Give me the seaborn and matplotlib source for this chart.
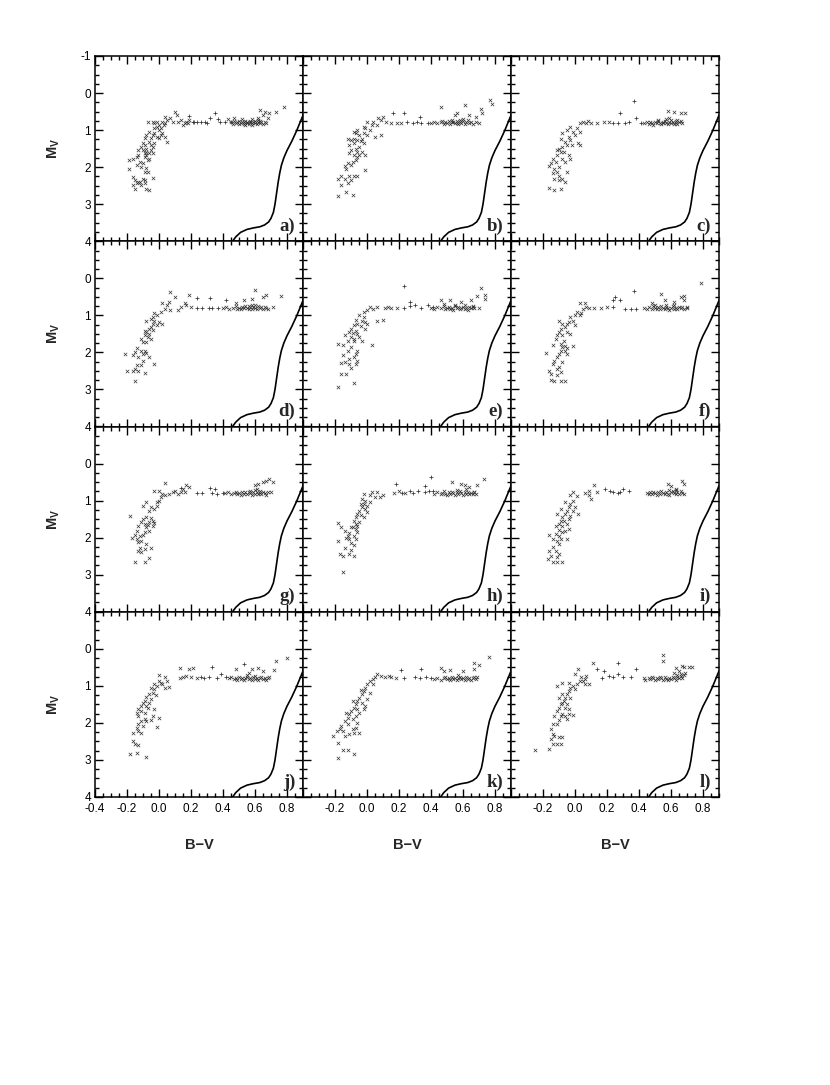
import matplotlib
matplotlib.use("Agg")
import matplotlib.pyplot as plt
from matplotlib.ticker import MultipleLocator
import seaborn as sns
import pandas as pd

# Common reference curve drawn in every panel (B-V, M_V)
curve_bv = [0.46, 0.48, 0.51, 0.55, 0.59, 0.63, 0.66, 0.685, 0.70, 0.715, 0.725, 0.735,
            0.745, 0.755, 0.765, 0.78, 0.80, 0.83, 0.86, 0.90]
curve_mv = [4.00, 3.88, 3.76, 3.68, 3.64, 3.61, 3.56, 3.48, 3.38, 3.22, 3.00, 2.70,
            2.40, 2.15, 1.95, 1.75, 1.55, 1.30, 1.02, 0.60]

panel_names = ['a', 'b', 'c', 'd', 'e', 'f', 'g', 'h', 'i', 'j', 'k', 'l']

# stars drawn with 'x', (B-V, M_V)
stars_a = [(-0.19,1.81),(-0.19,2.04),(-0.16,1.77),(-0.14,1.72),(-0.13,1.68),(-0.11,1.99),(-0.14,1.95),(-0.10,1.90),
           (-0.09,1.72),(-0.08,1.68),(-0.06,1.77),(-0.08,2.03),(-0.09,2.13),(-0.07,2.13),(-0.16,2.26),(-0.15,2.35),
           (-0.14,2.44),(-0.13,2.40),(-0.11,2.49),(-0.16,2.49),(-0.15,2.58),(-0.10,2.31),(-0.09,2.35),(-0.08,2.58),
           (-0.06,2.62),(-0.04,2.29),(-0.09,2.44),(-0.12,2.40),(-0.12,1.85),(-0.07,1.80),
           (-0.13,1.54),(-0.11,1.45),(-0.10,1.36),(-0.09,1.40),(-0.08,1.50),(-0.06,1.31),(-0.05,1.22),(-0.04,1.14),
           (-0.03,1.09),(-0.01,1.18),(-0.09,1.22),(-0.08,1.14),(-0.06,1.05),(-0.04,1.45),(-0.03,1.36),(-0.05,1.54),
           (-0.04,1.63),(-0.06,1.63),(-0.08,1.59),(-0.10,1.54),(-0.09,1.63),(-0.05,1.40),(0.00,1.22),(0.01,1.14),
           (0.02,1.09),(0.04,1.18),(0.05,1.31),(-0.03,0.95),(-0.01,0.91),(0.00,1.00),(0.01,0.95),(0.03,0.86),
           (0.04,0.82),(0.00,0.86),(-0.03,0.82),(0.04,0.64),(0.05,0.73),(0.07,0.68),(0.09,0.77),(0.10,0.50),
           (0.11,0.59),(0.12,0.77),(0.15,0.86),(0.14,0.73),(0.16,0.82),(0.17,0.77),(0.19,0.73),(0.18,0.82),
           (-0.07,0.77),(-0.04,0.77),(-0.01,0.77),(0.02,0.77),
           (0.45,0.79),(0.46,0.83),(0.47,0.76),(0.48,0.81),(0.49,0.78),(0.50,0.84),(0.50,0.75),(0.51,0.80),
           (0.52,0.77),(0.53,0.83),(0.53,0.79),(0.54,0.75),(0.55,0.81),(0.55,0.78),(0.56,0.84),(0.57,0.79),
           (0.57,0.76),(0.58,0.82),(0.59,0.78),(0.60,0.80),(0.60,0.75),(0.61,0.83),(0.62,0.78),(0.63,0.81),
           (0.63,0.75),(0.64,0.79),(0.65,0.84),(0.66,0.77),(0.67,0.81),(0.58,0.86),(0.54,0.86),(0.62,0.72),
           (0.63,0.46),(0.66,0.52),(0.69,0.55),(0.73,0.50),(0.78,0.37),(0.65,0.60),(0.68,0.68),(0.62,0.68),
           (0.58,0.70),(0.52,0.70),(0.43,0.70),(0.47,0.68)]
stars_b = [(-0.18,2.77),(-0.13,2.68),(-0.09,2.74),(-0.18,2.32),(-0.16,2.23),(-0.14,2.32),(-0.11,2.23),(-0.08,2.23),
           (-0.06,2.23),(-0.16,2.49),(-0.12,2.44),(-0.10,2.35),(-0.01,2.08),(-0.14,1.96),(-0.12,1.90),(-0.10,1.95),
           (-0.07,1.81),(-0.06,1.72),(-0.08,1.68),(-0.11,1.63),(-0.10,1.54),(-0.07,1.50),(-0.05,1.45),(-0.06,1.59),
           (-0.03,1.59),(-0.01,1.68),(-0.08,1.36),(-0.11,1.40),(-0.12,1.23),(-0.08,1.23),(-0.06,1.27),(-0.03,1.23),
           (-0.05,1.14),(-0.02,1.09),(0.00,1.14),(0.02,1.00),(-0.01,0.95),(0.03,0.86),(0.00,0.77),(0.04,0.77),
           (0.06,0.86),(0.07,0.68),(0.09,0.73),(0.05,1.18),(0.09,1.14),(-0.06,1.00),(-0.02,0.91),(-0.07,1.09),
           (-0.10,1.27),(-0.05,1.68),(-0.02,1.36),(-0.09,1.85),(-0.13,2.05),(-0.04,1.30),(-0.08,1.05),
           (0.10,0.64),(0.15,0.80),(0.19,0.80),(0.21,0.80),(0.12,0.78),
           (0.40,0.80),(0.42,0.77),(0.44,0.82),(0.46,0.79),(0.47,0.75),(0.48,0.83),(0.49,0.78),(0.50,0.81),
           (0.51,0.76),(0.52,0.84),(0.53,0.79),(0.54,0.77),(0.55,0.82),(0.56,0.75),(0.56,0.80),(0.57,0.84),
           (0.58,0.78),(0.59,0.81),(0.60,0.76),(0.61,0.83),(0.62,0.79),(0.63,0.74),(0.64,0.81),(0.65,0.77),
           (0.66,0.83),(0.58,0.72),(0.60,0.70),(0.53,0.72),(0.68,0.79),(0.70,0.81),
           (0.46,0.37),(0.61,0.31),(0.71,0.43),(0.72,0.55),(0.77,0.19),(0.78,0.30),(0.64,0.59),(0.68,0.64),
           (0.55,0.59),(0.56,0.55)]
stars_c = [(-0.16,2.56),(-0.13,2.62),(-0.09,2.60),(-0.16,1.96),(-0.15,1.90),(-0.13,2.04),(-0.11,2.13),(-0.14,2.17),
           (-0.10,2.23),(-0.08,2.31),(-0.10,2.35),(-0.05,2.13),(-0.06,2.40),(-0.13,2.31),
           (-0.14,1.77),(-0.11,1.68),(-0.09,1.59),(-0.10,1.50),(-0.08,1.45),(-0.05,1.41),(-0.06,1.32),(-0.09,1.23),
           (-0.04,1.18),(-0.01,1.05),(0.01,0.95),(-0.03,0.91),(0.03,0.82),(0.05,0.77),(0.07,0.82),(-0.03,1.77),
           (-0.04,1.68),(0.02,1.36),(0.03,1.41),(-0.08,1.77),(-0.06,1.86),(-0.11,1.54),(0.00,1.14),(-0.05,1.00),
           (-0.03,1.27),(-0.08,1.09),(-0.10,2.00),(0.03,1.05),(-0.07,1.60),(-0.12,1.85),(-0.02,1.40),
           (0.10,0.80),(0.14,0.80),(0.18,0.77),(0.21,0.77),(0.08,0.76),
           (0.43,0.82),(0.45,0.79),(0.46,0.84),(0.47,0.77),(0.48,0.81),(0.49,0.85),(0.50,0.78),(0.51,0.82),
           (0.52,0.76),(0.53,0.80),(0.54,0.84),(0.55,0.78),(0.55,0.82),(0.56,0.75),(0.57,0.80),(0.58,0.84),
           (0.59,0.77),(0.60,0.81),(0.61,0.78),(0.62,0.84),(0.63,0.80),(0.63,0.76),(0.64,0.83),(0.65,0.79),
           (0.66,0.76),(0.67,0.82),(0.60,0.72),(0.52,0.73),(0.57,0.70),
           (0.58,0.49),(0.62,0.52),(0.66,0.53),(0.69,0.55),(0.59,0.68),(0.64,0.73)]
stars_d = [(-0.21,2.05),(-0.20,2.49),(-0.16,2.49),(-0.15,2.44),(-0.14,2.35),(-0.13,2.49),(-0.11,2.35),(-0.15,2.77),
           (-0.09,2.56),(-0.10,2.23),(-0.16,2.08),(-0.15,1.99),(-0.14,1.87),(-0.11,1.95),(-0.10,2.04),(-0.09,1.96),
           (-0.08,2.02),(-0.06,2.13),(-0.03,2.32),(-0.13,2.13),
           (-0.11,1.63),(-0.09,1.54),(-0.08,1.45),(-0.06,1.36),(-0.08,1.72),(-0.05,1.63),(-0.06,1.50),(-0.09,1.41),
           (-0.05,1.32),(-0.04,1.23),(-0.03,1.14),(-0.01,1.27),(0.00,1.18),(0.02,1.23),(-0.08,1.14),(-0.05,1.09),
           (-0.03,0.95),(0.01,0.91),(0.04,0.82),(0.05,0.73),(0.02,0.68),(0.06,0.64),(0.07,0.37),(0.10,0.50),
           (0.14,0.77),(0.12,0.86),(0.16,0.68),(0.19,0.44),(0.17,0.73),(0.20,0.77),(-0.01,1.00),(-0.04,1.05),
           (0.07,0.86),(-0.10,1.72),(-0.07,1.58),(-0.04,1.40),
           (0.40,0.81),(0.42,0.78),(0.44,0.83),(0.46,0.79),(0.48,0.76),(0.49,0.82),(0.50,0.79),(0.51,0.84),
           (0.52,0.77),(0.53,0.81),(0.54,0.75),(0.55,0.80),(0.56,0.84),(0.57,0.78),(0.58,0.72),(0.58,0.82),
           (0.59,0.77),(0.60,0.80),(0.61,0.84),(0.62,0.76),(0.63,0.81),(0.64,0.78),(0.65,0.83),(0.66,0.77),
           (0.67,0.80),(0.68,0.82),(0.60,0.71),(0.56,0.74),
           (0.60,0.31),(0.67,0.46),(0.65,0.50),(0.76,0.48),(0.71,0.77),(0.58,0.55),(0.53,0.59),(0.48,0.67)]
stars_e = [(-0.18,2.94),(-0.13,2.58),(-0.16,2.59),(-0.08,2.82),(-0.18,1.78),(-0.15,1.81),(-0.12,1.95),(-0.15,2.08),
           (-0.11,2.17),(-0.08,2.13),(-0.07,2.04),(-0.06,1.95),(-0.10,1.86),(-0.14,2.26),(-0.16,2.29),(-0.11,2.31),
           (-0.10,2.41),(-0.07,2.32),(-0.06,2.23),(0.03,1.81),(-0.08,1.68),
           (-0.14,1.54),(-0.11,1.45),(-0.10,1.36),(-0.08,1.27),(-0.07,1.41),(-0.06,1.50),(-0.05,1.59),(-0.10,1.59),
           (-0.06,1.23),(-0.03,1.14),(-0.02,1.05),(-0.01,1.18),(0.00,1.23),(-0.05,1.00),(-0.02,0.91),(0.00,0.86),
           (0.02,0.77),(0.04,0.82),(0.06,0.77),(0.06,1.14),(0.10,1.12),(-0.01,1.36),(-0.08,1.63),(-0.03,1.68),
           (-0.12,1.70),(-0.09,1.48),(-0.04,1.30),(-0.07,1.12),
           (0.11,0.80),(0.15,0.80),(0.19,0.80),(0.13,0.77),
           (0.40,0.79),(0.42,0.83),(0.44,0.78),(0.46,0.81),(0.48,0.76),(0.49,0.84),(0.50,0.80),(0.51,0.77),
           (0.52,0.83),(0.53,0.79),(0.54,0.85),(0.55,0.76),(0.56,0.81),(0.57,0.78),(0.58,0.84),(0.59,0.80),
           (0.60,0.77),(0.61,0.82),(0.62,0.79),(0.63,0.85),(0.64,0.78),(0.65,0.81),(0.66,0.76),(0.67,0.80),
           (0.55,0.71),(0.61,0.72),(0.48,0.70),(0.70,0.80),
           (0.46,0.59),(0.52,0.58),(0.65,0.59),(0.69,0.49),(0.71,0.25),(0.74,0.46),(0.74,0.55),(0.59,0.64),
           (0.66,0.77)]
stars_f = [(-0.18,2.01),(-0.16,2.49),(-0.15,2.58),(-0.11,2.62),(-0.13,2.76),(-0.09,2.77),(-0.06,2.77),(-0.15,2.74),
           (-0.14,2.31),(-0.13,2.22),(-0.11,2.13),(-0.10,2.04),(-0.09,1.96),(-0.08,1.86),(-0.06,1.95),(-0.06,1.84),
           (-0.05,2.04),(-0.08,2.26),(-0.10,2.40),(-0.09,2.53),(-0.11,2.44),(-0.01,1.84),(-0.14,1.81),(-0.09,1.77),
           (-0.05,1.87),
           (-0.11,1.54),(-0.10,1.45),(-0.09,1.36),(-0.06,1.32),(-0.05,1.23),(-0.04,1.18),(-0.01,1.14),(-0.03,1.05),
           (0.00,1.00),(0.01,0.91),(-0.05,1.45),(-0.08,1.54),(-0.03,1.50),(0.00,1.27),(0.03,0.99),(0.04,0.95),
           (0.05,0.82),(0.06,0.68),(0.03,0.68),(0.07,0.77),(-0.10,1.14),(-0.08,1.23),(-0.12,1.65),(-0.07,1.70),
           (0.12,0.80),(0.16,0.80),(0.20,0.77),(0.09,0.80),
           (0.43,0.80),(0.45,0.84),(0.46,0.78),(0.48,0.82),(0.49,0.76),(0.50,0.80),(0.51,0.84),(0.52,0.78),
           (0.53,0.82),(0.54,0.75),(0.55,0.80),(0.56,0.84),(0.57,0.77),(0.58,0.81),(0.59,0.85),(0.60,0.79),
           (0.61,0.76),(0.62,0.82),(0.63,0.79),(0.64,0.84),(0.65,0.77),(0.66,0.81),(0.67,0.78),(0.68,0.83),
           (0.70,0.80),(0.62,0.72),(0.57,0.71),(0.50,0.73),
           (0.54,0.43),(0.56,0.59),(0.62,0.64),(0.66,0.50),(0.68,0.49),(0.68,0.59),(0.70,0.77),(0.79,0.13),
           (0.48,0.68)]
stars_g = [(-0.15,2.65),(-0.09,2.67),(-0.06,2.56),(-0.18,1.41),(-0.17,2.02),(-0.15,1.93),(-0.14,2.04),(-0.13,2.13),
           (-0.11,2.08),(-0.10,1.93),(-0.12,2.29),(-0.11,2.40),(-0.09,2.31),(-0.05,2.29),(-0.13,2.35),(-0.08,2.17),
           (-0.14,1.81),(-0.13,1.68),(-0.11,1.59),(-0.10,1.50),(-0.09,1.63),(-0.08,1.72),(-0.06,1.59),(-0.05,1.48),
           (-0.04,1.54),(-0.08,1.45),(-0.06,1.81),(-0.09,1.86),(-0.04,1.68),(-0.10,1.14),(-0.08,1.05),(-0.05,1.18),
           (-0.03,1.23),(-0.01,1.14),(0.00,1.00),(0.01,0.91),(-0.01,1.05),(0.02,0.82),(0.04,0.86),(0.04,0.52),
           (-0.03,0.75),(0.00,0.75),(0.06,0.82),(0.09,0.77),(0.10,0.73),(0.14,0.77),(0.15,0.68),(0.17,0.59),
           (0.19,0.64),(0.16,0.77),(0.12,0.82),(-0.06,1.27),(-0.07,1.66),(-0.12,1.95),(-0.03,1.60),
           (0.41,0.80),(0.43,0.78),(0.45,0.81),(0.47,0.79),(0.48,0.76),(0.49,0.82),(0.50,0.79),(0.51,0.84),
           (0.52,0.77),(0.53,0.81),(0.54,0.78),(0.55,0.83),(0.56,0.76),(0.57,0.80),(0.58,0.84),(0.59,0.78),
           (0.60,0.81),(0.61,0.76),(0.62,0.83),(0.63,0.79),(0.64,0.82),(0.65,0.77),(0.66,0.80),(0.67,0.84),
           (0.68,0.78),(0.57,0.73),(0.60,0.71),
           (0.60,0.59),(0.62,0.55),(0.65,0.50),(0.67,0.46),(0.69,0.43),(0.71,0.50),(0.70,0.77),(0.61,0.68),
           (0.63,0.73)]
stars_h = [(-0.15,2.92),(-0.17,2.44),(-0.15,2.49),(-0.11,2.44),(-0.08,2.49),(-0.10,2.32),(-0.14,2.29),(-0.18,2.08),
           (-0.18,1.60),(-0.16,1.72),(-0.14,1.81),(-0.12,1.95),(-0.11,2.04),(-0.10,2.14),(-0.08,2.20),(-0.11,1.87),
           (-0.08,1.95),(-0.07,2.04),(-0.06,1.86),(-0.07,1.77),(-0.10,1.72),
           (-0.08,1.54),(-0.07,1.45),(-0.06,1.36),(-0.05,1.27),(-0.03,1.18),(-0.02,1.09),(-0.01,1.00),(-0.03,0.95),
           (-0.01,1.23),(0.00,1.32),(-0.05,1.59),(-0.06,1.68),(-0.02,1.45),(0.00,1.14),(0.02,1.04),(-0.02,0.82),
           (0.02,0.85),(0.03,0.77),(0.06,0.77),(0.05,0.91),(0.08,0.91),(0.10,0.86),(-0.07,1.63),(-0.04,1.40),
           (-0.09,1.70),(-0.13,2.00),(-0.04,1.10),
           (0.17,0.80),(0.20,0.73),(0.24,0.80),
           (0.42,0.82),(0.44,0.78),(0.46,0.83),(0.47,0.79),(0.48,0.75),(0.49,0.81),(0.50,0.84),(0.51,0.78),
           (0.52,0.82),(0.53,0.76),(0.54,0.80),(0.55,0.84),(0.56,0.78),(0.57,0.82),(0.58,0.75),(0.59,0.80),
           (0.60,0.84),(0.61,0.78),(0.62,0.81),(0.63,0.76),(0.64,0.83),(0.65,0.79),(0.66,0.82),(0.67,0.77),
           (0.68,0.81),(0.56,0.72),(0.62,0.70),
           (0.53,0.49),(0.59,0.55),(0.61,0.59),(0.64,0.64),(0.67,0.77),(0.69,0.59),(0.73,0.41)]
stars_i = [(-0.17,2.58),(-0.15,2.49),(-0.14,2.67),(-0.11,2.67),(-0.08,2.67),(-0.16,2.35),(-0.14,2.26),(-0.12,2.35),
           (-0.10,2.17),(-0.11,2.08),(-0.14,2.04),(-0.16,1.93),(-0.12,1.90),(-0.10,1.95),(-0.08,1.86),(-0.09,2.04),
           (-0.05,2.04),(-0.10,2.44),(-0.11,2.53),
           (-0.12,1.68),(-0.10,1.63),(-0.09,1.54),(-0.08,1.45),(-0.06,1.36),(-0.05,1.27),(-0.04,1.18),(-0.03,1.09),
           (-0.01,1.00),(-0.08,1.68),(-0.05,1.63),(-0.04,1.77),(-0.06,1.81),(-0.03,1.41),(-0.01,1.27),(0.00,1.18),
           (0.02,1.36),(-0.06,1.05),(-0.09,1.23),(-0.11,1.36),(-0.03,0.86),(-0.01,0.77),(0.01,0.88),(0.06,0.80),
           (0.09,0.86),(0.10,0.95),(0.12,0.59),(0.09,0.73),(0.14,0.77),(-0.07,1.55),(-0.10,1.80),(-0.04,1.50),
           (0.45,0.80),(0.46,0.83),(0.47,0.78),(0.48,0.82),(0.49,0.76),(0.50,0.80),(0.51,0.84),(0.52,0.78),
           (0.53,0.81),(0.54,0.75),(0.55,0.79),(0.56,0.83),(0.57,0.77),(0.58,0.81),(0.59,0.84),(0.60,0.78),
           (0.61,0.74),(0.62,0.80),(0.63,0.83),(0.64,0.77),(0.65,0.81),(0.66,0.75),(0.67,0.79),(0.68,0.82),
           (0.63,0.71),(0.59,0.72),
           (0.58,0.55),(0.60,0.61),(0.67,0.46),(0.68,0.55),(0.63,0.68)]
stars_j = [(-0.18,2.85),(-0.14,2.80),(-0.16,2.50),(-0.15,2.58),(-0.13,2.59),(-0.08,2.92),(-0.16,2.26),(-0.14,2.13),
           (-0.13,2.22),(-0.11,2.26),(-0.13,2.04),(-0.11,1.96),(-0.09,1.90),(-0.10,2.08),(-0.08,1.95),(-0.05,1.93),
           (-0.01,2.11),(0.00,1.86),(-0.04,1.81),(-0.13,1.81),
           (-0.14,1.72),(-0.13,1.63),(-0.11,1.54),(-0.10,1.45),(-0.09,1.41),(-0.08,1.54),(-0.06,1.45),(-0.05,1.36),
           (-0.08,1.30),(-0.06,1.23),(-0.04,1.18),(-0.03,1.09),(-0.05,1.05),(-0.03,0.95),(-0.01,1.00),(0.00,0.86),
           (0.01,0.91),(0.02,0.95),(0.04,1.05),(0.05,0.86),(0.06,1.04),(0.00,0.70),(0.04,0.75),(-0.09,1.72),
           (-0.11,1.68),(-0.03,1.63),(-0.07,1.60),(-0.02,1.25),
           (0.13,0.52),(0.13,0.80),(0.15,0.77),(0.17,0.73),(0.19,0.55),(0.21,0.52),(0.20,0.77),(0.24,0.80),
           (0.44,0.80),(0.45,0.77),(0.47,0.82),(0.48,0.79),(0.49,0.84),(0.50,0.77),(0.51,0.81),(0.52,0.78),
           (0.53,0.84),(0.54,0.80),(0.55,0.76),(0.56,0.82),(0.57,0.79),(0.58,0.84),(0.59,0.77),(0.60,0.81),
           (0.61,0.78),(0.62,0.84),(0.63,0.80),(0.64,0.76),(0.65,0.82),(0.66,0.79),(0.67,0.83),(0.55,0.72),
           (0.60,0.73),(0.68,0.80),
           (0.48,0.55),(0.56,0.64),(0.58,0.55),(0.62,0.52),(0.65,0.59),(0.69,0.77),(0.72,0.58),(0.73,0.34),
           (0.80,0.25)]
stars_k = [(-0.18,2.94),(-0.15,2.72),(-0.12,2.74),(-0.08,2.85),(-0.21,2.35),(-0.18,2.55),(-0.19,2.23),(-0.17,2.17),
           (-0.15,2.22),(-0.14,2.35),(-0.11,2.29),(-0.08,2.26),(-0.05,2.26),(-0.07,2.13),(-0.09,2.17),(-0.06,1.99),
           (-0.16,2.08),
           (-0.14,1.95),(-0.12,1.86),(-0.11,1.77),(-0.10,1.68),(-0.08,1.59),(-0.07,1.50),(-0.06,1.41),(-0.05,1.32),
           (-0.03,1.23),(-0.02,1.14),(-0.01,1.05),(0.00,0.95),(0.02,0.86),(-0.07,1.81),(-0.05,1.72),(-0.02,1.63),
           (-0.01,1.54),(-0.03,1.45),(-0.06,1.63),(-0.09,1.90),(-0.12,2.04),(0.02,1.18),(0.00,1.36),(0.04,0.82),
           (0.06,0.68),(0.09,0.73),(0.05,0.77),(0.11,0.77),(0.14,0.73),(0.15,0.77),(0.04,0.95),(-0.09,1.40),
           (-0.04,1.10),(-0.13,1.72),
           (0.18,0.80),
           (0.42,0.81),(0.44,0.78),(0.46,0.83),(0.48,0.80),(0.49,0.76),(0.50,0.82),(0.51,0.79),(0.52,0.84),
           (0.53,0.77),(0.54,0.81),(0.55,0.78),(0.56,0.83),(0.57,0.79),(0.58,0.76),(0.59,0.82),(0.60,0.79),
           (0.61,0.84),(0.62,0.77),(0.63,0.81),(0.64,0.78),(0.65,0.83),(0.66,0.80),(0.67,0.76),(0.68,0.81),
           (0.57,0.72),
           (0.46,0.52),(0.48,0.61),(0.52,0.58),(0.60,0.59),(0.67,0.55),(0.69,0.77),(0.67,0.37),(0.70,0.43),
           (0.76,0.23)]
stars_l = [(-0.25,2.74),(-0.16,2.71),(-0.14,2.56),(-0.11,2.56),(-0.09,2.56),(-0.15,2.44),(-0.14,2.29),(-0.13,2.35),
           (-0.10,2.38),(-0.08,2.38),(-0.15,2.17),(-0.14,2.04),(-0.11,2.04),(-0.10,1.93),(-0.13,1.81),(-0.09,1.81),
           (-0.06,1.81),(-0.05,1.90),(-0.04,1.75),(-0.01,1.78),
           (-0.11,1.68),(-0.10,1.59),(-0.09,1.50),(-0.08,1.45),(-0.06,1.59),(-0.05,1.50),(-0.04,1.63),(-0.10,1.32),
           (-0.08,1.23),(-0.06,1.32),(-0.05,1.23),(-0.04,1.14),(-0.03,1.05),(-0.01,1.00),(0.00,1.09),(0.01,0.95),
           (0.03,0.86),(0.04,0.77),(0.00,0.68),(0.02,0.55),(0.05,0.86),(0.06,0.82),(0.07,0.73),(0.09,0.95),
           (0.11,0.37),(0.06,0.95),(-0.03,1.32),(-0.08,1.77),(-0.11,1.00),(-0.08,0.91),(-0.04,0.91),(-0.07,1.40),
           (0.43,0.80),(0.44,0.83),(0.46,0.78),(0.47,0.82),(0.48,0.76),(0.49,0.80),(0.50,0.84),(0.51,0.78),
           (0.52,0.81),(0.53,0.76),(0.54,0.80),(0.55,0.83),(0.56,0.77),(0.57,0.81),(0.58,0.84),(0.59,0.78),
           (0.60,0.81),(0.61,0.75),(0.62,0.79),(0.63,0.83),(0.64,0.77),(0.65,0.80),(0.66,0.74),(0.67,0.78),
           (0.68,0.72),(0.66,0.68),(0.69,0.66),(0.64,0.70),
           (0.55,0.16),(0.55,0.34),(0.63,0.52),(0.67,0.46),(0.68,0.50),(0.71,0.50),(0.73,0.49),(0.65,0.59),
           (0.62,0.64)]

# stars drawn with '+', (B-V, M_V)
var_a = [(0.19,0.61),(0.21,0.79),(0.24,0.79),(0.26,0.79),(0.29,0.79),(0.32,0.67),(0.35,0.55),(0.37,0.70),
         (0.38,0.77),(0.41,0.79),(0.45,0.77),(0.22,0.78),(0.30,0.80)]
var_b = [(0.16,0.55),(0.23,0.53),(0.33,0.64),(0.29,0.80),(0.34,0.80),(0.38,0.80),(0.25,0.79),(0.31,0.78)]
var_c = [(0.24,0.80),(0.27,0.80),(0.31,0.80),(0.28,0.53),(0.37,0.22),(0.38,0.68),(0.41,0.80),(0.34,0.79)]
var_d = [(0.24,0.53),(0.32,0.52),(0.24,0.80),(0.27,0.80),(0.31,0.80),(0.33,0.80),(0.37,0.80),(0.42,0.59)]
var_e = [(0.23,0.22),(0.23,0.80),(0.27,0.64),(0.27,0.75),(0.30,0.73),(0.38,0.73),(0.41,0.77),(0.34,0.80)]
var_f = [(0.24,0.59),(0.25,0.50),(0.28,0.58),(0.37,0.34),(0.24,0.77),(0.31,0.82),(0.35,0.82),(0.38,0.82)]
var_g = [(0.14,0.67),(0.24,0.80),(0.27,0.80),(0.32,0.67),(0.35,0.68),(0.33,0.80),(0.36,0.82),(0.40,0.80)]
var_h = [(0.18,0.55),(0.27,0.75),(0.29,0.80),(0.32,0.73),(0.36,0.61),(0.40,0.37),(0.36,0.77),(0.39,0.73),
         (0.41,0.73),(0.22,0.80)]
var_i = [(0.19,0.68),(0.24,0.77),(0.27,0.80),(0.30,0.70),(0.34,0.73),(0.22,0.73),(0.28,0.78)]
var_j = [(0.26,0.77),(0.31,0.77),(0.33,0.48),(0.36,0.80),(0.39,0.68),(0.42,0.77),(0.53,0.41),(0.28,0.80)]
var_k = [(0.21,0.58),(0.30,0.75),(0.34,0.55),(0.33,0.80),(0.37,0.77),(0.40,0.80),(0.23,0.79)]
var_l = [(0.14,0.55),(0.17,0.80),(0.18,0.61),(0.21,0.73),(0.24,0.77),(0.27,0.39),(0.27,0.68),(0.30,0.77),
         (0.35,0.77),(0.38,0.55)]

stars = [stars_a, stars_b, stars_c, stars_d, stars_e, stars_f,
         stars_g, stars_h, stars_i, stars_j, stars_k, stars_l]
variables = [var_a, var_b, var_c, var_d, var_e, var_f,
             var_g, var_h, var_i, var_j, var_k, var_l]

sns.set_style("ticks")
plt.rcParams['font.family'] = ['Liberation Sans', 'DejaVu Sans']
plt.rcParams['axes.unicode_minus'] = False
plt.rcParams['mathtext.fontset'] = 'custom'
plt.rcParams['mathtext.bf'] = 'Liberation Sans:bold'
plt.rcParams['mathtext.rm'] = 'Liberation Sans'

fig, axes = plt.subplots(4, 3, figsize=(8.3, 10.85), dpi=100)
fig.subplots_adjust(left=95/830, right=719/830, top=1-56/1085, bottom=1-797/1085,
                    hspace=0, wspace=0)

point_color = '#333333'

for idx, ax in enumerate(axes.flat):
    row, col = divmod(idx, 3)
    df_x = pd.DataFrame(stars[idx], columns=['bv', 'mv'])
    df_p = pd.DataFrame(variables[idx], columns=['bv', 'mv'])

    sns.scatterplot(data=df_x, x='bv', y='mv', marker='x', s=6, color=point_color,
                    linewidth=0.5, ax=ax, legend=False)
    sns.scatterplot(data=df_p, x='bv', y='mv', marker='+', s=11, color=point_color,
                    linewidth=0.55, ax=ax, legend=False)
    sns.lineplot(x=curve_bv, y=curve_mv, sort=False, estimator=None, color='black',
                 linewidth=1.2, ax=ax)

    ax.set_xlim(-0.4, 0.9)
    ax.set_ylim(4, -1)
    ax.xaxis.set_major_locator(MultipleLocator(0.2))
    ax.xaxis.set_minor_locator(MultipleLocator(0.05))
    ax.yaxis.set_major_locator(MultipleLocator(1))
    ax.yaxis.set_minor_locator(MultipleLocator(0.25))
    ax.tick_params(which='both', direction='in', top=True, right=True,
                   labelsize=8.5, width=1.0, colors='black')
    ax.tick_params(axis='x', pad=4.5)
    ax.tick_params(axis='y', pad=3)
    ax.tick_params(which='major', length=6)
    ax.tick_params(which='minor', length=3)
    for sp in ax.spines.values():
        sp.set_linewidth(1.1)
        sp.set_color('black')

    # y tick labels only on the left column
    if col == 0:
        ax.set_yticks([-1, 0, 1, 2, 3, 4])
        ylabels = ['-1', '0', '1', '2', '3', '4'] if row == 0 else ['', '0', '1', '2', '3', '4']
        ax.set_yticklabels(ylabels)
        ax.set_ylabel(r'$\mathbf{M_V}$', fontsize=10.5, fontweight='bold')
        ax.yaxis.set_label_coords(-0.16, 0.5)
    else:
        ax.tick_params(labelleft=False)
        ax.set_ylabel('')

    # x tick labels only on the bottom row
    if row == 3:
        ticks = [-0.4, -0.2, 0.0, 0.2, 0.4, 0.6, 0.8]
        ax.set_xticks(ticks)
        xlabels = [f'{t:.1f}' for t in ticks]
        if col > 0:
            xlabels[0] = ''
        ax.set_xticklabels(xlabels)
        ax.set_xlabel('B\u2212V', fontsize=10.5, fontweight='bold')
        ax.xaxis.set_label_coords(0.5, -0.22)
    else:
        ax.tick_params(labelbottom=False)
        ax.set_xlabel('')

    ax.text(0.962, 0.035, panel_names[idx] + ')', transform=ax.transAxes, ha='right', va='bottom',
            fontfamily='Liberation Serif', fontweight='bold', fontsize=13.5)

fig.savefig('out.png', dpi=100)
